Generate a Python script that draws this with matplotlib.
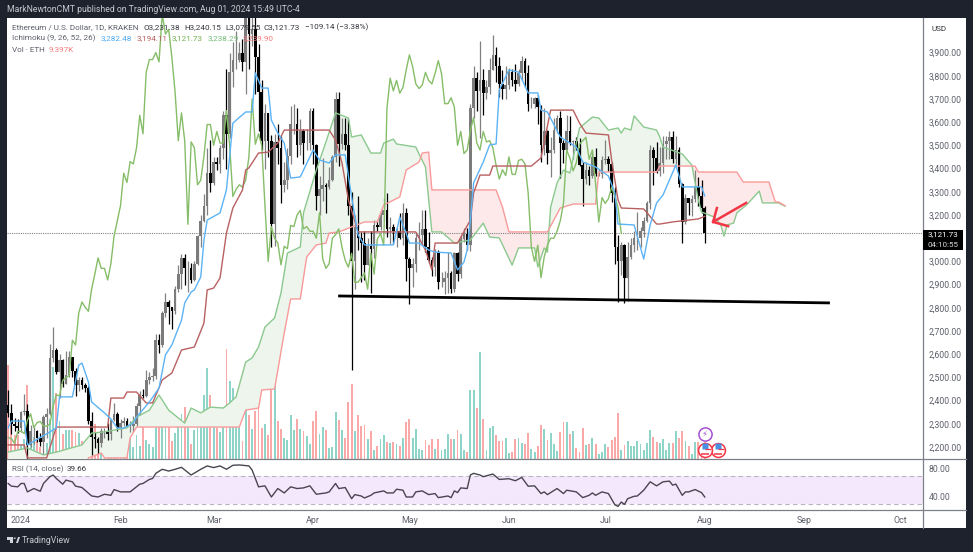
import numpy as np
import matplotlib
matplotlib.use('Agg')
import matplotlib.pyplot as plt
from matplotlib.patches import Rectangle, Circle, Polygon

W, H = 973, 552

# daily candles, day 0 = 2024-01-01, first candle is day -4
days = np.arange(-4, 214)
opens = [2380, 2345, 2300, 2292, 2281, 2352, 2355, 2209, 2268, 2268,
         2240, 2222, 2330, 2344, 2584, 2617, 2522, 2575, 2470, 2511,
         2587, 2528, 2467, 2490, 2469, 2453, 2312, 2241, 2236, 2216,
         2267, 2268, 2258, 2316, 2343, 2283, 2305, 2310, 2290, 2290,
         2298, 2375, 2425, 2420, 2487, 2500, 2507, 2660, 2640, 2778,
         2825, 2802, 2785, 2880, 2945, 3015, 2970, 2970, 2920, 2990,
         3110, 3175, 3240, 3380, 3340, 3430, 3420, 3490, 3630, 3550,
         3815, 3870, 3870, 3900, 3860, 4065, 3980, 4000, 3880, 3730,
         3520, 3640, 3520, 3160, 3515, 3490, 3330, 3350, 3455, 3590,
         3590, 3500, 3560, 3510, 3510, 3650, 3500, 3280, 3310, 3330,
         3320, 3350, 3450, 3700, 3505, 3550, 3500, 3240, 3000, 3150,
         3100, 3080, 2985, 3065, 3055, 3155, 3150, 3200, 3220, 3140,
         3150, 3130, 3130, 3100, 3210, 3010, 2970, 2990, 3100, 3115,
         3140, 3060, 3005, 2975, 3035, 2910, 2910, 2930, 2950, 2880,
         3035, 2945, 3095, 3120, 3070, 3660, 3790, 3735, 3780, 3725,
         3750, 3825, 3890, 3840, 3765, 3745, 3760, 3815, 3780, 3765,
         3810, 3865, 3810, 3680, 3680, 3705, 3665, 3500, 3560, 3465,
         3480, 3565, 3620, 3510, 3480, 3560, 3515, 3520, 3490, 3415,
         3355, 3395, 3370, 3450, 3375, 3375, 3435, 3440, 3420, 3295,
         3060, 3000, 3070, 2930, 3020, 3070, 3100, 3100, 3130, 3175,
         3250, 3480, 3445, 3390, 3425, 3505, 3520, 3535, 3440, 3480,
         3335, 3170, 3275, 3250, 3270, 3320, 3280, 3231.38]
highs = [2445, 2385, 2325, 2320, 2355, 2430, 2385, 2295, 2285, 2275,
         2260, 2340, 2370, 2645, 2717, 2625, 2600, 2580, 2615, 2615,
         2590, 2540, 2500, 2500, 2475, 2465, 2350, 2265, 2245, 2280,
         2280, 2305, 2320, 2390, 2350, 2320, 2330, 2325, 2310, 2335,
         2390, 2440, 2450, 2530, 2525, 2540, 2685, 2685, 2785, 2865,
         2835, 2805, 2895, 2985, 3030, 3030, 3000, 2995, 3000, 3115,
         3200, 3290, 3490, 3525, 3450, 3450, 3500, 3650, 3830, 3900,
         3945, 3995, 3945, 3960, 4085, 4100, 4085, 4085, 3935, 3780,
         3680, 3640, 3545, 3550, 3590, 3540, 3430, 3490, 3670, 3680,
         3660, 3615, 3570, 3570, 3660, 3660, 3505, 3370, 3445, 3340,
         3405, 3460, 3730, 3730, 3620, 3620, 3620, 3300, 3200, 3280,
         3125, 3130, 3100, 3130, 3180, 3180, 3215, 3275, 3295, 3190,
         3160, 3150, 3210, 3250, 3230, 3020, 3015, 3125, 3170, 3220,
         3220, 3125, 3020, 3055, 3050, 2955, 2960, 3040, 2960, 3040,
         3040, 3115, 3145, 3145, 3680, 3840, 3815, 3950, 3830, 3780,
         3875, 3975, 3925, 3880, 3825, 3840, 3835, 3830, 3850, 3830,
         3885, 3875, 3845, 3710, 3710, 3715, 3675, 3660, 3565, 3535,
         3620, 3630, 3650, 3525, 3630, 3625, 3525, 3535, 3530, 3430,
         3430, 3410, 3480, 3490, 3400, 3455, 3525, 3455, 3430, 3320,
         3115, 3085, 3075, 3085, 3100, 3130, 3215, 3150, 3190, 3260,
         3500, 3495, 3515, 3495, 3540, 3540, 3560, 3560, 3540, 3495,
         3340, 3290, 3275, 3285, 3395, 3365, 3350, 3240.15]
lows = [2330, 2255, 2270, 2260, 2265, 2340, 2100, 2200, 2215, 2220,
        2205, 2170, 2240, 2340, 2565, 2515, 2410, 2460, 2470, 2500,
        2500, 2420, 2440, 2450, 2435, 2300, 2165, 2195, 2170, 2200,
        2240, 2230, 2230, 2310, 2270, 2240, 2290, 2285, 2265, 2270,
        2290, 2340, 2410, 2415, 2470, 2485, 2495, 2605, 2630, 2760,
        2730, 2710, 2775, 2870, 2880, 2900, 2870, 2905, 2915, 2985,
        3060, 3170, 3200, 3300, 3330, 3395, 3380, 3440, 3400, 3530,
        3750, 3830, 3860, 3820, 3720, 3830, 3930, 3720, 3560, 3480,
        3400, 3450, 3060, 3065, 3420, 3250, 3300, 3310, 3420, 3550,
        3450, 3460, 3420, 3480, 3480, 3420, 3220, 3200, 3260, 3210,
        3310, 3345, 3430, 3410, 3485, 3480, 3200, 2530, 2880, 3050,
        2910, 2920, 2985, 2865, 3015, 3130, 3135, 3175, 3105, 3075,
        3075, 3060, 3095, 3070, 2915, 2815, 2890, 2955, 3050, 3070,
        3040, 2995, 2935, 2935, 2880, 2890, 2860, 2865, 2865, 2870,
        2915, 2930, 3085, 3050, 3045, 3620, 3650, 3530, 3630, 3700,
        3720, 3825, 3775, 3710, 3700, 3700, 3745, 3755, 3735, 3755,
        3780, 3750, 3650, 3660, 3660, 3590, 3430, 3460, 3420, 3365,
        3465, 3555, 3360, 3425, 3480, 3500, 3440, 3480, 3410, 3240,
        3335, 3330, 3360, 3370, 3370, 3360, 3420, 3390, 3255, 2990,
        2825, 2940, 2820, 2830, 3010, 3040, 3050, 3060, 3105, 3170,
        3225, 3330, 3380, 3370, 3380, 3440, 3440, 3425, 3420, 3320,
        3080, 3160, 3200, 3195, 3255, 3240, 3210, 3079.55]
closes = [2345, 2300, 2292, 2281, 2352, 2355, 2209, 2268, 2268, 2240,
          2222, 2330, 2344, 2584, 2617, 2522, 2575, 2470, 2511, 2587,
          2528, 2467, 2490, 2469, 2453, 2312, 2241, 2236, 2216, 2267,
          2268, 2258, 2316, 2343, 2283, 2305, 2310, 2290, 2290, 2298,
          2375, 2425, 2420, 2487, 2500, 2507, 2660, 2640, 2778, 2825,
          2802, 2785, 2880, 2945, 3015, 2970, 2970, 2920, 2990, 3110,
          3175, 3240, 3380, 3340, 3430, 3420, 3490, 3630, 3550, 3815,
          3870, 3870, 3900, 3860, 4065, 3980, 4000, 3880, 3730, 3520,
          3640, 3520, 3160, 3515, 3490, 3330, 3350, 3455, 3590, 3590,
          3500, 3560, 3510, 3510, 3650, 3500, 3280, 3310, 3330, 3320,
          3350, 3450, 3700, 3505, 3550, 3500, 3240, 3000, 3150, 3100,
          3080, 2985, 3065, 3055, 3155, 3150, 3200, 3220, 3140, 3150,
          3130, 3130, 3100, 3210, 3010, 2970, 2990, 3100, 3115, 3140,
          3060, 3005, 2975, 3035, 2910, 2910, 2930, 2950, 2880, 3035,
          2945, 3095, 3120, 3070, 3660, 3790, 3735, 3780, 3725, 3750,
          3825, 3890, 3840, 3765, 3745, 3760, 3815, 3780, 3765, 3810,
          3865, 3810, 3680, 3680, 3705, 3665, 3500, 3560, 3465, 3480,
          3565, 3620, 3510, 3480, 3560, 3515, 3520, 3490, 3415, 3355,
          3395, 3370, 3450, 3375, 3375, 3435, 3440, 3420, 3295, 3060,
          3000, 3070, 2930, 3020, 3070, 3100, 3100, 3130, 3175, 3250,
          3480, 3445, 3390, 3425, 3505, 3520, 3535, 3440, 3480, 3335,
          3170, 3275, 3250, 3270, 3320, 3280, 3232, 3121.73]

# volume in K ETH
volume = [51.7, 18.7, 13.2, 13.2, 7.7, 11, 40.7, 13.8, 12.1, 11,
          6.6, 12.1, 8.8, 22, 50.6, 36.3, 20.9, 13.8, 16, 16,
          16, 14.9, 14.3, 9.9, 6.1, 7.7, 17.6, 19.3, 12.1, 5.5,
          7.7, 12.1, 13.8, 9.9, 9.9, 9.4, 5.5, 7.2, 15.4, 6.6,
          13.2, 7.2, 17.6, 10.5, 8.3, 6.6, 17.6, 20.4, 18.2, 19.3,
          19.8, 9.9, 14.3, 18.7, 24.8, 28.6, 19.3, 8.3, 16, 25.3,
          24.2, 35.2, 50, 35.2, 28.6, 17, 14.9, 28, 60.5, 42.9,
          39, 19.3, 19.3,
          9.9, 27, 24.2, 16.5, 26.4, 28.6, 17, 19.3, 13.2, 38,
          53.9, 20.9, 16.5, 11.6, 10.5, 24.2, 16, 22, 16.5, 15.4,
          12.7, 8.3, 20.9, 26.4, 13.8, 17.6, 16, 6.1, 6.6, 25.9,
          21.5, 16, 11.6, 31.4, 41.3, 15.4, 24.2, 18.2, 18.7, 11,
          15.4, 5, 7.2, 11, 13.2, 9.4, 8.8, 9.4, 8.3, 7.2,
          11.6, 20.4, 22, 11.6, 16.5, 5.5, 5, 10.5, 7.7, 11,
          5.5, 11, 5, 5.5, 13.8, 11, 11, 16, 13.8, 5,
          3.9, 38, 38, 28, 58.9,
          22, 5, 17, 18.2, 13.2, 9.9, 9.9, 11.6, 3.3, 3.9,
          11, 11.6, 8.8, 8.3, 14.3, 5.5, 3.9, 7.2, 18.7, 16.5,
          10.5, 14.3, 8.3, 4.4, 14.9, 20.4, 20.4, 13.8, 15.4, 6.1,
          3.9, 17, 7.7, 8.3, 11.6, 8.3, 2.8, 3.9, 8.3, 6.6,
          10.5, 12.1, 25.3, 5, 7.7, 9.9, 7.2, 7.2, 9.9, 8.3,
          5, 8.8, 16, 12.1, 9.4, 8.8, 11, 5, 8.8, 8.8,
          15.4, 11.6, 15.4, 9.9, 7.2, 2.8, 9.4, 9.4, 6.6, 9.397]

# ichimoku lines, read at their corners
base_days = [-4, 1, 2, 8, 11, 27, 28, 32, 33, 36, 39, 41, 44, 47, 50, 54, 57, 58, 60, 62,
             64, 66, 69, 70, 71, 74, 77, 80, 82, 96, 98, 100, 102, 105, 123, 126, 128, 129, 136, 140,
             141, 143, 146, 147, 159, 162, 165, 172, 174, 176, 183, 184, 186, 187, 194, 198, 199, 203, 211, 213]
base_line = [2209, 2209, 2153, 2153, 2286, 2286, 2411, 2411, 2437, 2437, 2390, 2390, 2489, 2519, 2618, 2631, 2734, 2877, 2885, 2928,
             3122, 3230, 3308, 3394, 3403, 3467, 3471, 3510, 3566, 3566, 3523, 3424, 3265, 3127, 3127, 3049, 2963, 3079, 3079, 3178,
             3295, 3372, 3372, 3411, 3411, 3446, 3652, 3652, 3596, 3553, 3545, 3437, 3265, 3230, 3226, 3161, 3161, 3170, 3183, 3194.11]
conv_days = [-4, -3, 1, 2, 9, 11, 12, 16, 18, 19, 21, 22, 26, 28, 30, 32, 35, 36, 40, 43,
             45, 47, 50, 51, 53, 54, 56, 57, 58, 62, 64, 66, 70, 72, 73, 75, 77, 78, 80, 82,
             84, 87, 91, 93, 96, 98, 101, 103, 105, 107, 116, 118, 120, 121, 124, 127, 129, 134, 136, 138,
             139, 140, 141, 144, 146, 148, 149, 152, 155, 158, 161, 162, 164, 168, 173, 175, 179, 183, 185, 186,
             191, 194, 196, 198, 200, 204, 206, 212, 213]
conv_line = [2282, 2312, 2312, 2209, 2265, 2282, 2416, 2416, 2553, 2562, 2480, 2394, 2347, 2321, 2282, 2282, 2303, 2329, 2394, 2454,
             2597, 2640, 2747, 2821, 2868, 2877, 2933, 3092, 3178, 3209, 3308, 3596, 3644, 3644, 3812, 3747, 3747, 3609, 3553, 3510,
             3359, 3364, 3480, 3437, 3424, 3459, 3459, 3277, 3114, 3071, 3071, 3191, 3122, 3079, 3079, 3049, 3040, 3036, 2963, 2997,
             3049, 3178, 3338, 3428, 3502, 3506, 3739, 3825, 3816, 3726, 3726, 3652, 3644, 3536, 3493, 3428, 3407, 3368, 3295, 3161,
             3157, 3010, 3157, 3252, 3286, 3415, 3321, 3321, 3282.48]
span_a_days = [-4, 2, 7, 11, 19, 22, 26, 29, 33, 36, 40, 43, 46, 51, 53, 56, 59, 63, 65, 67,
               70, 72, 74, 76, 79, 81, 83, 87, 88, 92, 95, 98, 102, 103, 106, 109, 112, 113, 116, 117,
               123, 124, 126, 128, 131, 135, 140, 144, 146, 149, 153, 155, 160, 161, 163, 164, 165, 167, 169, 171,
               174, 178, 180, 183, 186, 187, 188, 190, 191, 194, 198, 199, 200, 206, 209, 211, 212, 216, 218, 219,
               220, 222, 223, 226, 230, 231, 236, 238]
span_a = [2178, 2196, 2166, 2178, 2209, 2260, 2265, 2273, 2282, 2329, 2359, 2424, 2359, 2303, 2368, 2347, 2372, 2368, 2390, 2416,
          2566, 2584, 2631, 2717, 2756, 2864, 3036, 3062, 3209, 3394, 3515, 3640, 3618, 3536, 3545, 3467, 3467, 3510, 3527, 3506,
          3493, 3463, 3407, 3127, 3127, 3079, 3092, 3165, 3105, 3101, 2984, 3058, 3058, 2976, 3058, 3040, 3234, 3338, 3394, 3381,
          3575, 3622, 3618, 3566, 3575, 3553, 3575, 3566, 3627, 3579, 3566, 3536, 3493, 3463, 3415, 3265, 3213, 3191, 3157, 3109,
          3157, 3165, 3209, 3243, 3303, 3252, 3252, 3238.29]
span_b_days = [-4, 20, 21, 25, 26, 33, 34, 36, 68, 70, 74, 75, 79, 82, 84, 87, 89, 92, 95, 96,
               99, 107, 111, 113, 118, 120, 124, 125, 127, 128, 148, 150, 152, 164, 168, 172, 179, 180, 198, 199,
               210, 211, 223, 225, 233, 235, 236, 238]
span_b = [2100, 2100, 2153, 2174, 2153, 2153, 2239, 2286, 2286, 2359, 2368, 2446, 2450, 2691, 2838, 2838, 3019, 3071, 3079, 3122,
          3127, 3170, 3170, 3243, 3278, 3394, 3428, 3467, 3471, 3308, 3308, 3234, 3127, 3127, 3230, 3247, 3247, 3385, 3385, 3411,
          3411, 3385, 3385, 3342, 3342, 3256, 3256, 3239.9]
lag_shift = 26

rsi_days = [-4, -3, -1, 0, 1, 2, 4, 6, 7, 9, 10, 11, 13, 14, 16, 17, 19, 22, 24, 26,
            28, 29, 31, 34, 37, 38, 40, 41, 42, 44, 46, 48, 50, 53, 56, 58, 60, 62, 64, 66,
            68, 71, 72, 74, 76, 78, 80, 82, 84, 86, 88, 90, 92, 95, 96, 98, 99, 101, 103, 104,
            106, 107, 109, 110, 113, 114, 116, 117, 119, 120, 122, 123, 125, 127, 129, 130, 133, 134, 135, 136,
            137, 139, 140, 141, 143, 144, 147, 149, 152, 154, 156, 158, 160, 162, 163, 164, 167, 169, 170, 173,
            175, 177, 178, 179, 181, 183, 185, 186, 187, 188, 189, 191, 192, 194, 196, 198, 200, 202, 203, 204,
            206, 207, 208, 210, 212, 213]
rsi_vals = [58.9, 55.1, 54.1, 58.9, 58.9, 46.9, 51.7, 47.8, 58.9, 68.6, 71, 66.1, 57.9, 63.7, 61.3, 55.1, 53.1, 41.1, 39.6, 43.5,
            42, 50.2, 46.9, 46.9, 57.9, 58.9, 64.7, 66.1, 73.4, 79.2, 76.7, 79.2, 82, 71, 79.2, 84, 81.6, 84, 79.2, 84.9,
            85.4, 84, 78.2, 54.1, 55.5, 39.6, 51.7, 45.4, 54.1, 51.7, 52.6, 55.5, 43.5, 45.4, 46.9, 58.9, 51.7, 53.1, 37.2, 43,
            41, 38.2, 42, 45.4, 48.3, 45.4, 45.4, 50.7, 49.3, 39.6, 39.6, 46.9, 48.3, 43, 44.5, 38.7, 41, 38.7, 48.3, 45.9,
            52.6, 51.7, 71, 73.4, 71, 68.6, 72.4, 64.7, 65.7, 62.8, 67.6, 55, 55.5, 44.5, 46.9, 43, 51.7, 44.5, 49.3, 46.9,
            38.7, 42, 45.4, 42, 46.9, 44.5, 28.5, 26.1, 32.4, 29, 37.2, 40.6, 41, 49.3, 61.3, 55.5, 61.3, 62.3, 56.5, 58,
            42, 46.9, 46.9, 50.2, 45.9, 39.66]

support_days = [98.8, 252]
support_vals = [2851, 2821]
arrow_days = [225.9, 215.6]
arrow_vals = [3252, 3170]
arrow_head_days = [216.8, 215.6, 220.3]
arrow_head_vals = [3230, 3170, 3152]

# the 3,100 label sits behind the last price tag, so it is not listed
price_ticks = [2200, 2300, 2400, 2500, 2600, 2700, 2800, 2900, 3000, 3200, 3300, 3400, 3500,
               3600, 3700, 3800, 3900]
month_days = [0, 31, 60, 91, 121, 152, 182, 213, 244, 274]
month_labels = ['2024', 'Feb', 'Mar', 'Apr', 'May', 'Jun', 'Jul', 'Aug', 'Sep', 'Oct']
last_close = closes[-1]

plt.rcParams['font.family'] = ['Roboto', 'DejaVu Sans']
dark = '#1e222d'
grey_text = '#5d606b'


def axes_px(fig, x0, y0, x1, y1):
    return fig.add_axes([x0 / W, 1 - y1 / H, (x1 - x0) / W, (y1 - y0) / H])


def label(x, y, s, color=grey_text, size=5.9, **kw):
    fig.text(x / W, 1 - y / H, s, color=color, fontsize=size, va='center', **kw)


fig = plt.figure(figsize=(W / 100, H / 100), dpi=100, facecolor=dark)
fig.add_artist(Rectangle((7 / W, 1 - 528 / H), 959 / W, 510 / H, transform=fig.transFigure,
                         facecolor='white', edgecolor='none', zorder=-1))

ax = axes_px(fig, 7, 18, 923, 459)
ax.set_xlim(-4.36, 281)
ax.set_ylim(2148.3, 4049)
ax.patch.set_visible(False)

ax_vol = ax.twinx()
ax_vol.set_ylim(0, 242.5)
ax_vol.set_yticks([])
ax_vol.patch.set_visible(False)
ax.set_zorder(2)
ax_vol.set_zorder(1)

o = np.array(opens, dtype=float)
c = np.array(closes, dtype=float)
is_up = c >= o
ax_vol.bar(days, volume, width=0.58, color=['#8fd4c9' if u else '#fba8a8' for u in is_up], linewidth=0)

# cloud
grid = np.union1d(span_a_days, span_b_days)
a_on_grid = np.interp(grid, span_a_days, span_a)
b_on_grid = np.interp(grid, span_b_days, span_b)
ax.fill_between(grid, a_on_grid, b_on_grid, where=a_on_grid >= b_on_grid, interpolate=True,
                color='#edf5ed', linewidth=0, zorder=1)
ax.fill_between(grid, a_on_grid, b_on_grid, where=a_on_grid < b_on_grid, interpolate=True,
                color='#fde9e9', linewidth=0, zorder=1)

# candles
for up, col in [(True, '#7b7b7b'), (False, '#000000')]:
    m = is_up == up
    ax.vlines(days[m], np.array(lows)[m], np.array(highs)[m], color=col if not up else '#808080',
              linewidth=0.9, zorder=3)
    ax.bar(days[m], np.abs(c[m] - o[m]), bottom=np.minimum(o[m], c[m]), width=0.82, color=col,
           linewidth=0, zorder=3)

ax.plot(span_a_days, span_a, color='#8cc98f', lw=1.0, zorder=4)
ax.plot(span_b_days, span_b, color='#f99a9a', lw=1.0, zorder=4)
ax.plot(days[:-lag_shift], closes[lag_shift:], color='#86bd68', lw=1.0, zorder=4)
ax.plot(base_days, base_line, color='#b96060', lw=1.0, zorder=5)
ax.plot(conv_days, conv_line, color='#5cb3f5', lw=1.0, zorder=5)

ax.axhline(last_close, color='#808080', lw=0.8, ls=(0, (1, 1)), zorder=2)

ax.plot(support_days, support_vals, color='black', lw=2.0, solid_capstyle='butt', zorder=6)
ax.plot(arrow_days, arrow_vals, color='#f23645', lw=1.8, zorder=6)
ax.plot(arrow_head_days, arrow_head_vals, color='#f23645', lw=1.8, zorder=6)

# event icons on the last bars
ax.plot([213], [2256], 'o', ms=9.5, mfc='white', mec='#a64fd0', mew=1.1, zorder=7)
ax.text(213, 2256, '\u26a1', color='#a64fd0', fontsize=6, ha='center', va='center', zorder=8,
        family='DejaVu Sans')
for d in [217, 213]:
    ax.plot([d], [2187], 'o', ms=10, mfc='white', mec='#f23645', mew=1.1, zorder=7)
    ax.plot([d], [2205], 's', ms=3.8, mfc='#4a90e2', mec='none', zorder=8)
    ax.plot([d + 1], [2190], '_', ms=4, color='#f23645', mew=0.9, zorder=8)
    ax.plot([d], [2172], '_', ms=6, color='#f23645', mew=1.1, zorder=8)

ax.yaxis.tick_right()
ax.set_yticks(price_ticks)
ax.set_yticklabels(['{:,.2f}'.format(p) for p in price_ticks])
ax.tick_params(axis='y', length=0, labelcolor=grey_text, labelsize=6.2, pad=4)
ax.set_xticks([])
for s in ax.spines.values():
    s.set_visible(False)
for s in ax_vol.spines.values():
    s.set_visible(False)

# rsi pane
ax_rsi = axes_px(fig, 7, 459, 923, 510)
ax_rsi.set_xlim(-4.36, 281)
ax_rsi.set_ylim(21, 93.9)
ax_rsi.patch.set_visible(False)
ax_rsi.axhspan(30, 70, color='#f4e8fd', linewidth=0)
ax_rsi.axhline(70, color='#b9b3c2', lw=0.8, ls=(0, (4, 3)))
ax_rsi.axhline(30, color='#b9b3c2', lw=0.8, ls=(0, (4, 3)))
ax_rsi.plot(rsi_days, rsi_vals, color='#4a4550', lw=1.0)
ax_rsi.yaxis.tick_right()
ax_rsi.set_yticks([40, 80])
ax_rsi.set_yticklabels(['40.00', '80.00'])
ax_rsi.tick_params(axis='y', length=0, labelcolor=grey_text, labelsize=6.2, pad=4)
ax_rsi.set_xticks(month_days)
ax_rsi.set_xticklabels(month_labels)
ax_rsi.tick_params(axis='x', length=0, labelcolor=grey_text, labelsize=6.4, pad=4)
for s in ax_rsi.spines.values():
    s.set_visible(False)

# pane separators
for (x0, y0, x1, y1) in [(7, 459, 966, 459), (7, 510, 966, 510), (923, 18, 923, 528)]:
    fig.add_artist(plt.Line2D([x0 / W, x1 / W], [1 - y0 / H, 1 - y1 / H], color='#7e8088', lw=0.9))

# header and legend texts
label(7, 10, 'MarkNewtonCMT published on TradingView.com, Aug 01, 2024 15:49 UTC-4', color='#c8cad0', size=6.2)
label(12, 27, 'Ethereum / U.S. Dollar, 1D, KRAKEN')
for x, s in [(144, 'O3,231.38'), (184, 'H3,240.15'), (225, 'L3,079.55'), (264, 'C3,121.73'),
             (305, '\u2212109.14 (\u22123.38%)')]:
    label(x, 27, s, color='#33353c')
label(12, 38, 'Ichimoku (9, 26, 52, 26)')
for x, s, col in [(101, '3,282.48', '#4aa8f2'), (137, '3,194.11', '#b85c5c'), (172, '3,121.73', '#72b052'),
                  (208, '3,238.29', '#72bb76'), (243, '3,239.90', '#f77c7c')]:
    label(x, 38, s, color=col)
label(12, 50, 'Vol \u00b7 ETH')
label(49, 50, '9.397K', color='#f77c7c')
label(12, 469, 'RSI (14, close)')
label(67, 469, '39.66', color='#33353c')
label(931, 29, 'USD', color='#33353c')

# last price tag
fig.add_artist(Rectangle((923 / W, 1 - 250 / H), 40 / W, 20 / H, transform=fig.transFigure,
                         facecolor='black', edgecolor='none', zorder=5))
fig.text(943 / W, 1 - 234.5 / H, '{:,.2f}'.format(last_close), color='white', fontsize=5.8,
         ha='center', va='center', zorder=6)
fig.text(943 / W, 1 - 245 / H, '04:10:55', color='#d8d8d8', fontsize=5.8,
         ha='center', va='center', zorder=6)

# footer mark
logo_col = '#d1d4dc'
fig.add_artist(Polygon([(7 / W, 1 - 537 / H), (13 / W, 1 - 537 / H), (13 / W, 1 - 543 / H), (10 / W, 1 - 543 / H),
                        (10 / W, 1 - 539.5 / H), (7 / W, 1 - 539.5 / H)], closed=True, transform=fig.transFigure,
                       facecolor=logo_col, edgecolor='none'))
fig.add_artist(Circle((14.7 / W, 1 - 538.2 / H), 1.2 / W, transform=fig.transFigure, facecolor=logo_col,
                      edgecolor='none'))
fig.add_artist(Polygon([(16 / W, 1 - 543 / H), (18 / W, 1 - 537 / H), (20 / W, 1 - 537 / H), (18 / W, 1 - 543 / H)],
                       closed=True, transform=fig.transFigure, facecolor=logo_col, edgecolor='none'))
label(22, 540.5, 'TradingView', color='#c8cad0', size=6.3)

fig.savefig('out.png', dpi=100, facecolor=dark)
